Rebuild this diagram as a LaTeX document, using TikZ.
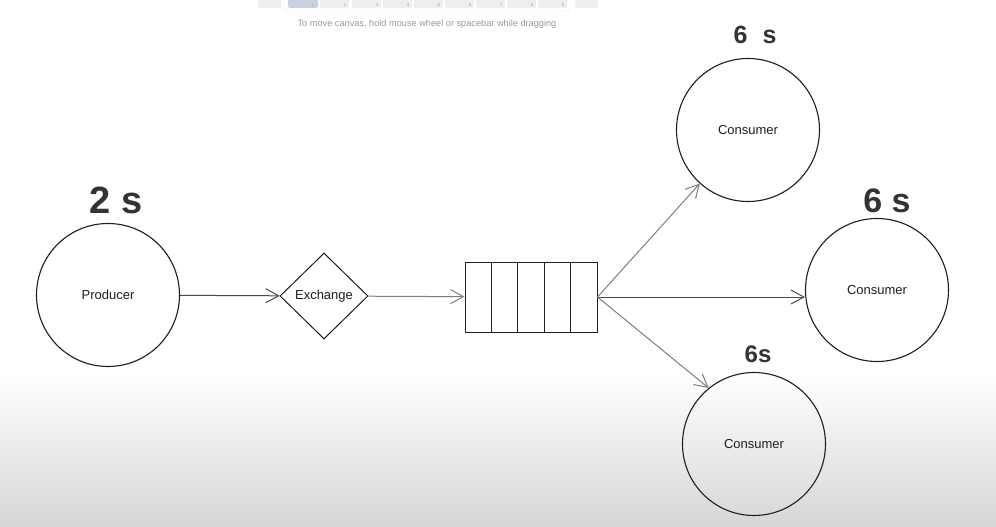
\documentclass[tikz,border=0pt]{standalone}
\usepackage{fontspec}
\setmainfont{Liberation Sans}
\usepackage{xcolor}
\definecolor{colInk}{HTML}{1E1E1E}
\definecolor{colHand}{HTML}{333333}
\definecolor{colArrow}{HTML}{4A4A4A}
\definecolor{colArrowLight}{HTML}{7E7E7E}
\definecolor{colHint}{HTML}{9A9A9A}
\definecolor{colKey}{HTML}{ECEEF1}
\definecolor{colKeySel}{HTML}{C8D2DF}
\definecolor{colFloor}{HTML}{D6D6D6}
\usepackage{tikz}
\usetikzlibrary{arrows.meta, positioning, shapes.geometric, calc}

\tikzset{
  nodo/.style={circle, draw=colInk, line width=1.1pt, minimum size=143pt, inner sep=0pt,
    text=colInk, font=\fontsize{13}{15}\selectfont},
  tempo/.style={text=colHand, font=\fontsize{#1}{#1}\selectfont\bfseries},
  freccia/.style={-{Straight Barb[length=13pt, width=14pt]}, line width=1pt},
  tasto/.style={fill=colKey, rounded corners=2pt},
}

\begin{document}
\begin{tikzpicture}[x=1pt, y=-1pt]
        \useasboundingbox (0,0) rectangle (996,527);
        % Sfondo
        \fill[white] (0,0) rectangle (996,527);
        \shade[top color=white, bottom color=colFloor] (0,375) rectangle (996,527);
        % Barra strumenti
        \fill[tasto] (258,-3) rectangle (281,8);
        \fill[tasto] (575,-3) rectangle (598,8);
        \draw[black!7, fill=white, rounded corners=3pt] (285,-4) rectangle (570,11);
        \fill[colKeySel, rounded corners=2pt] (288,-3) rectangle (318,8);
        \node[font=\fontsize{4}{4}\selectfont, text=colHint] (key1) at (313,5) {1};
        \foreach \kx/\kn in {320/2, 352/3, 383/4, 414/5, 445/6, 476/7, 507/8, 538/9}{
            \fill[tasto] (\kx,-3) rectangle (\kx+29,8);
            \node[font=\fontsize{4}{4}\selectfont, text=colHint] (key\kn) at (\kx+25,5) {\kn};}
        \node[text=colHint, font=\fontsize{9.2}{11}\selectfont] (hint) at (427,24)
            {To move canvas, hold mouse wheel or spacebar while dragging};
        % Nodi
        \node[nodo] (prod) at (108,295) {Producer};
        \node[diamond, draw=colInk, line width=1pt, minimum width=88pt, minimum height=86pt,
            inner sep=0pt, label={[text=colInk, font=\fontsize{13}{15}\selectfont]center:Exchange}]
            (exch) at (324,296) {};
        \node[draw=colInk, line width=1pt, minimum width=132pt, minimum height=70pt, inner sep=0pt]
            (queue) at (531,297) {};
        \foreach \i in {1,...,4}{
            \draw[colInk, line width=1pt] ($(queue.north west)!\i/5!(queue.north east)$)
                -- ($(queue.south west)!\i/5!(queue.south east)$);}
        \node[nodo] (cons1) at (748,130) {Consumer};
        \node[nodo] (cons2) at (877,290) {Consumer};
        \node[nodo] (cons3) at (754,444) {Consumer};
        % Tempi
        \node[tempo=38] (tProd) at (116,200) {2 s};
        \node[tempo=25] (tCons1) at (755,35) {6\hspace{0.6em}s};
        \node[tempo=34] (tCons2) at (887,201) {6 s};
        \node[tempo=24] (tCons3) at (758,354) {6s};
        % Frecce
        \draw[freccia, colArrow] (prod) -- (exch);
        \draw[freccia, colArrowLight] (exch) -- (queue);
        \draw[freccia, colArrowLight] (queue.east) -- (cons1.228);
        \draw[freccia, colArrow] (queue.east) -- (queue.east -| cons2.west);
        \draw[freccia, colArrowLight] (queue.east) -- (cons3.129);
    \end{tikzpicture}
\end{document}
